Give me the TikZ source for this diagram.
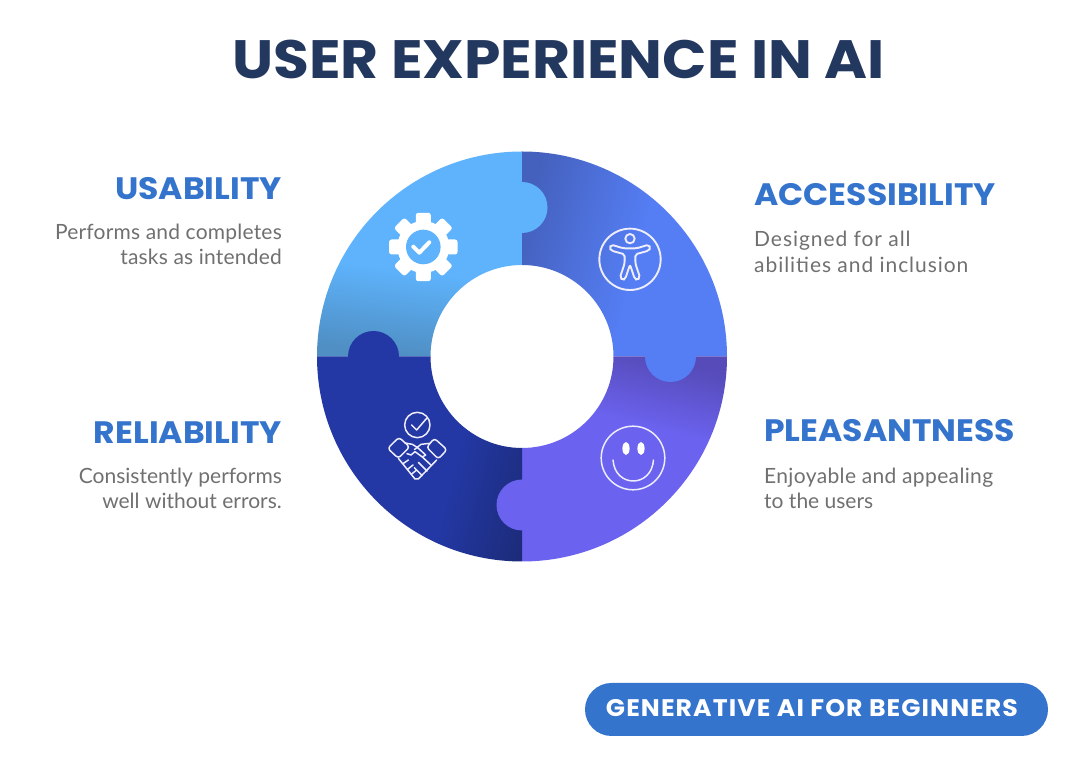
\documentclass[tikz,border=0pt]{standalone}
\usepackage{fontspec}
\setmainfont{Lato}
\newfontfamily\headfont[FakeStretch=1.065]{Poppins}
\newfontfamily\titlefont[FakeStretch=1.08]{Poppins}
\newfontfamily\badgefont[FakeStretch=1.05,LetterSpace=4.5]{Poppins}
\newfontfamily\descu[LetterSpace=1]{Lato}
\newfontfamily\desca[LetterSpace=4.5]{Lato}
\newfontfamily\descp[LetterSpace=1.7]{Lato}
\definecolor{titlecol}{HTML}{23385E}
\definecolor{headcol}{HTML}{3474CC}
\definecolor{desccol}{HTML}{707070}
\definecolor{ulight}{HTML}{5EB3FC}
\definecolor{udark}{HTML}{4F8FC4}
\definecolor{alight}{HTML}{557EF5}
\definecolor{adark}{HTML}{4561BE}
\definecolor{rbase}{HTML}{2338A5}
\definecolor{rdark}{HTML}{1C2B78}
\definecolor{pbase}{HTML}{6B62EF}
\definecolor{pdark}{HTML}{564BB8}
\definecolor{iconline}{HTML}{EDEDFB}
\pgfdeclareverticalshading{ushade}{600bp}{color(0bp)=(udark); color(208bp)=(udark); color(292bp)=(ulight); color(500bp)=(ulight)}
\pgfdeclarehorizontalshading{ashade}{600bp}{color(0bp)=(adark); color(190bp)=(adark); color(310bp)=(alight); color(500bp)=(alight)}
\pgfdeclareverticalshading{pshade}{600bp}{color(0bp)=(pbase); color(215bp)=(pbase); color(285bp)=(pdark); color(500bp)=(pdark)}
\pgfdeclarehorizontalshading{rshade}{600bp}{color(0bp)=(rbase); color(205bp)=(rbase); color(295bp)=(rdark); color(500bp)=(rdark)}
\tikzset{
  heading/.style={font=\headfont\bfseries\fontsize{31}{33}\selectfont,text=headcol,inner sep=0pt},
  desc/.style={font=\fontsize{21}{25.5}\selectfont,text=desccol,inner sep=0pt},
  iconstroke/.style={draw=iconline,line width=1.5pt,line join=round,line cap=round},
}
\begin{document}
\begin{tikzpicture}[x=1pt,y=1pt]
\useasboundingbox (0,0) rectangle (1080,760);
\fill[white] (0,0) rectangle (1080,760);

\node[font=\titlefont\bfseries\fontsize{54}{60}\selectfont,text=titlecol,inner sep=0pt,anchor=base] (title) at (558.5,681) {USER EXPERIENCE IN AI};

% ring quadrants, centre (522,403.5)
\def\quadrant#1#2{(522,403.5) ++(#1:205pt) arc[start angle=#1,end angle=#2,radius=205pt] -- ++(#2+180:113.5pt) arc[start angle=#2,end angle=#1,radius=91.5pt] -- cycle}
\begin{scope}
\clip \quadrant{90}{180};
\pgftext[at=\pgfpoint{420pt}{446pt},rotate=-7]{\pgfuseshading{ushade}}
\end{scope}
\begin{scope}
\clip \quadrant{0}{90};
\pgftext[at=\pgfpoint{576pt}{500pt},rotate=-15]{\pgfuseshading{ashade}}
\end{scope}
\begin{scope}
\clip \quadrant{270}{360};
\pgftext[at=\pgfpoint{670pt}{364pt},rotate=-14]{\pgfuseshading{pshade}}
\end{scope}
\begin{scope}
\clip \quadrant{180}{270};
\pgftext[at=\pgfpoint{491pt}{260pt},rotate=-15]{\pgfuseshading{rshade}}
\end{scope}
% puzzle tabs
\fill[ulight] (522,552.5) circle[radius=25.5pt];
\fill[alight] (670.5,403.5) circle[radius=25.5pt];
\fill[pbase] (522,255) circle[radius=25.5pt];
\fill[rbase] (373.5,403.5) circle[radius=25.5pt];

% gear
\begin{scope}[shift={(423.3,513)}]
\fill[white] (0,0) circle[radius=26pt];
\foreach \a in {0,45,...,315}
  \fill[white,rotate=\a,rounded corners=2.5pt] (-7.5,15) rectangle (7.5,34.2);
\fill[ulight] (0,0) circle[radius=17.3pt];
\draw[white,line width=4pt,line cap=round,line join=round] (-10,0.3) -- (-4,-5.7) -- (6,4.7);
\end{scope}

% accessibility icon
\begin{scope}[shift={(590,540)},yscale=-1,scale=0.33333]
\draw[iconstroke,line width=1.9pt] (120,118) circle[radius=92];
\draw[iconstroke,line width=1.9pt] (120,56) circle[radius=14];
\draw[iconstroke,line width=1.9pt,rounded corners=2pt] (58,84) -- (64,74) -- (100,85) -- (140,85) -- (176,74) -- (182,84) -- (176,92) -- (136,103) -- (136,130) -- (150,172) -- (142,181) -- (134,176) -- (120,134) -- (106,176) -- (98,181) -- (90,172) -- (104,130) -- (104,103) -- (64,92) -- cycle;
\end{scope}

% smiley
\begin{scope}
\draw[iconstroke] (633,302) circle[radius=31.8pt];
\fill[white] (626,311.5) ellipse[x radius=3.6pt,y radius=6.5pt];
\fill[white] (641,311.5) ellipse[x radius=3.6pt,y radius=6.5pt];
\draw[iconstroke] (613,300) .. controls (615,272) and (651.5,272) .. (653.5,300);
\end{scope}

% handshake
\begin{scope}[shift={(375,355)},yscale=-1,scale=0.33333]
\draw[iconstroke] (127,60) circle[radius=38];
\draw[iconstroke] (110,60) -- (125,75) -- (155,40);
\draw[iconstroke,rounded corners=3pt] (38,130) -- (72,97) -- (104,126) -- (70,160) -- cycle;
\draw[iconstroke,rounded corners=3pt] (178,100) -- (216,134) -- (190,162) -- (155,127) -- cycle;
\draw[iconstroke] (90,114) -- (112,118) -- (128,128) -- (152,150) -- (142,156) -- (120,140) -- (108,150) -- (96,146);
\draw[iconstroke] (165,115) -- (138,118) -- (118,134);
\draw[iconstroke] (70,160) -- (120,222) -- (130,222) -- (185,165);
\draw[iconstroke] (84,176) -- (100,165);
\draw[iconstroke] (98,193) -- (114,180);
\draw[iconstroke] (110,207) -- (124,196);
\draw[iconstroke] (142,156) -- (170,182);
\draw[iconstroke] (130,172) -- (156,198);
\draw[iconstroke] (118,188) -- (142,212);
\end{scope}

% labels
\node[heading,anchor=base east] (usab) at (282,560) {USABILITY};
\node[desc,anchor=base east] (usab1) at (282,520) {\descu Performs and completes};
\node[desc,anchor=base east] (usab2) at (282,495) {\descu tasks as intended};

\node[heading,anchor=base west] (acc) at (754,554) {ACCESSIBILITY};
\node[desc,anchor=base west] (acc1) at (754,513) {\desca Designed for all};
\node[desc,anchor=base west] (acc2) at (754,487) {\desca abilities and inclusion};

\node[heading,anchor=base east] (rel) at (282,316) {RELIABILITY};
\node[desc,anchor=base east] (rel1) at (282,276) {Consistently performs};
\node[desc,anchor=base east] (rel2) at (282,251) {well without errors.};

\node[heading,anchor=base west] (ple) at (764,318) {PLEASANTNESS};
\node[desc,anchor=base west] (ple1) at (764,276) {\descp Enjoyable and appealing};
\node[desc,anchor=base west] (ple2) at (764,251) {to the users};

% badge
\fill[headcol,rounded corners=26.5pt] (585,24) rectangle (1048,77);
\node[font=\badgefont\bfseries\fontsize{24}{26}\selectfont,text=white,inner sep=0pt,anchor=base] (badge) at (812,43) {GENERATIVE AI FOR BEGINNERS};
\end{tikzpicture}
\end{document}
